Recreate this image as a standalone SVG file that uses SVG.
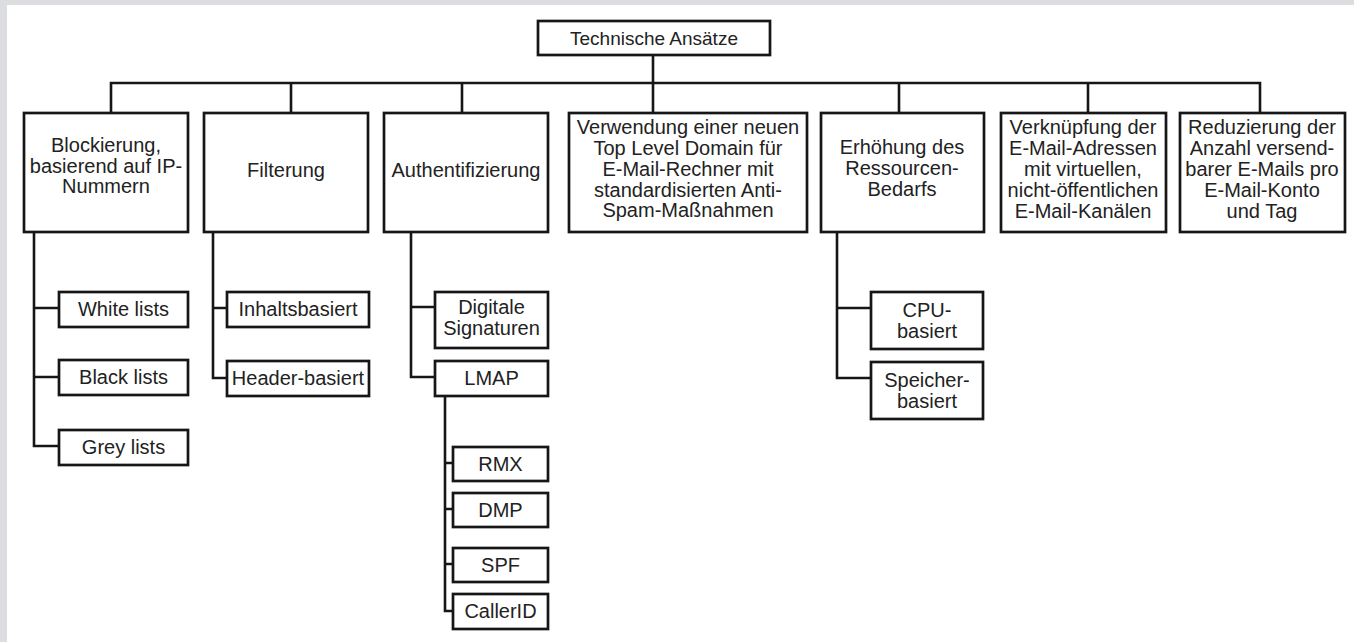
<svg xmlns="http://www.w3.org/2000/svg" width="1354" height="642" viewBox="0 0 1354 642">
<style>
.bx{fill:#fff;stroke:#161616;stroke-width:2.7}
.ln{fill:none;stroke:#161616;stroke-width:2.6}
text{font-family:"Liberation Sans",Arial,sans-serif;font-size:20px;fill:#222;text-anchor:middle}
.root{font-size:19px}
</style>
<rect x="0" y="0" width="1354" height="642" fill="#dcdde0"/>
<rect x="7" y="5" width="1347" height="637" fill="#fff"/>
<g id="connectors">
<path class="ln" d="M111,113 V83 H1260 V113"/>
<path class="ln" d="M653,55 V113"/>
<path class="ln" d="M291,83 V113 M462,83 V113 M899,83 V113 M1088,83 V113"/>
<path class="ln" d="M34,232 V446 H59 M34,308 H59 M34,377 H59"/>
<path class="ln" d="M213,232 V378 H227 M213,308 H227"/>
<path class="ln" d="M411,232 V377 H435 M411,307 H435"/>
<path class="ln" d="M445,396 V611 H453 M445,463 H453 M445,509 H453 M445,564 H453"/>
<path class="ln" d="M837,232 V378 H871 M837,308 H871"/>
</g>
<g id="root"><rect class="bx" x="538" y="21" width="232" height="34"/><text class="root" x="654" y="45">Technische Ansätze</text></g>
<g id="blockierung"><rect class="bx" x="24" y="113" width="164" height="119"/><text x="106" y="152">Blockierung,</text><text x="106" y="172.5">basierend auf IP-</text><text x="106" y="193">Nummern</text></g>
<g id="filterung"><rect class="bx" x="204" y="113" width="164" height="119"/><text x="286" y="177">Filterung</text></g>
<g id="authentifizierung"><rect class="bx" x="384" y="113" width="164" height="119"/><text x="466" y="177">Authentifizierung</text></g>
<g id="verwendung"><rect class="bx" x="569" y="113" width="238" height="119"/><text x="688" y="134">Verwendung einer neuen</text><text x="688" y="155">Top Level Domain für</text><text x="688" y="176">E-Mail-Rechner mit</text><text x="688" y="197">standardisierten Anti-</text><text x="688" y="217">Spam-Maßnahmen</text></g>
<g id="erhoehung"><rect class="bx" x="821" y="113" width="163" height="119"/><text x="902" y="154">Erhöhung des</text><text x="902" y="175">Ressourcen-</text><text x="902" y="196">Bedarfs</text></g>
<g id="verknuepfung"><rect class="bx" x="1001" y="113" width="165" height="119"/><text x="1083" y="134">Verknüpfung der</text><text x="1083" y="155">E-Mail-Adressen</text><text x="1083" y="176">mit virtuellen,</text><text x="1083" y="197">nicht-öffentlichen</text><text x="1083" y="218">E-Mail-Kanälen</text></g>
<g id="reduzierung"><rect class="bx" x="1180" y="113" width="165" height="119"/><text x="1262" y="134">Reduzierung der</text><text x="1262" y="155">Anzahl versend-</text><text x="1262" y="176">barer E-Mails pro</text><text x="1262" y="197">E-Mail-Konto</text><text x="1262" y="218">und Tag</text></g>
<g id="white"><rect class="bx" x="59" y="292" width="129" height="35"/><text x="123.5" y="316">White lists</text></g>
<g id="black"><rect class="bx" x="59" y="360" width="129" height="35"/><text x="123.5" y="384">Black lists</text></g>
<g id="grey"><rect class="bx" x="59" y="430" width="129" height="35"/><text x="123.5" y="454">Grey lists</text></g>
<g id="inhalt"><rect class="bx" x="227" y="292" width="142" height="35"/><text x="298" y="316">Inhaltsbasiert</text></g>
<g id="header"><rect class="bx" x="227" y="361" width="142" height="35"/><text x="298" y="385">Header-basiert</text></g>
<g id="digitale"><rect class="bx" x="435" y="292" width="113" height="56"/><text x="491.5" y="314">Digitale</text><text x="491.5" y="335">Signaturen</text></g>
<g id="lmap"><rect class="bx" x="435" y="361" width="113" height="35"/><text x="491.5" y="385">LMAP</text></g>
<g id="rmx"><rect class="bx" x="453" y="447" width="95" height="34"/><text x="500.5" y="471">RMX</text></g>
<g id="dmp"><rect class="bx" x="453" y="493" width="95" height="34"/><text x="500.5" y="517">DMP</text></g>
<g id="spf"><rect class="bx" x="453" y="548" width="95" height="34"/><text x="500.5" y="572">SPF</text></g>
<g id="callerid"><rect class="bx" x="453" y="594" width="95" height="35"/><text x="500.5" y="618">CallerID</text></g>
<g id="cpu"><rect class="bx" x="871" y="292" width="112" height="57"/><text x="927" y="317">CPU-</text><text x="927" y="338">basiert</text></g>
<g id="speicher"><rect class="bx" x="871" y="362" width="112" height="57"/><text x="927" y="387">Speicher-</text><text x="927" y="408">basiert</text></g>
</svg>
